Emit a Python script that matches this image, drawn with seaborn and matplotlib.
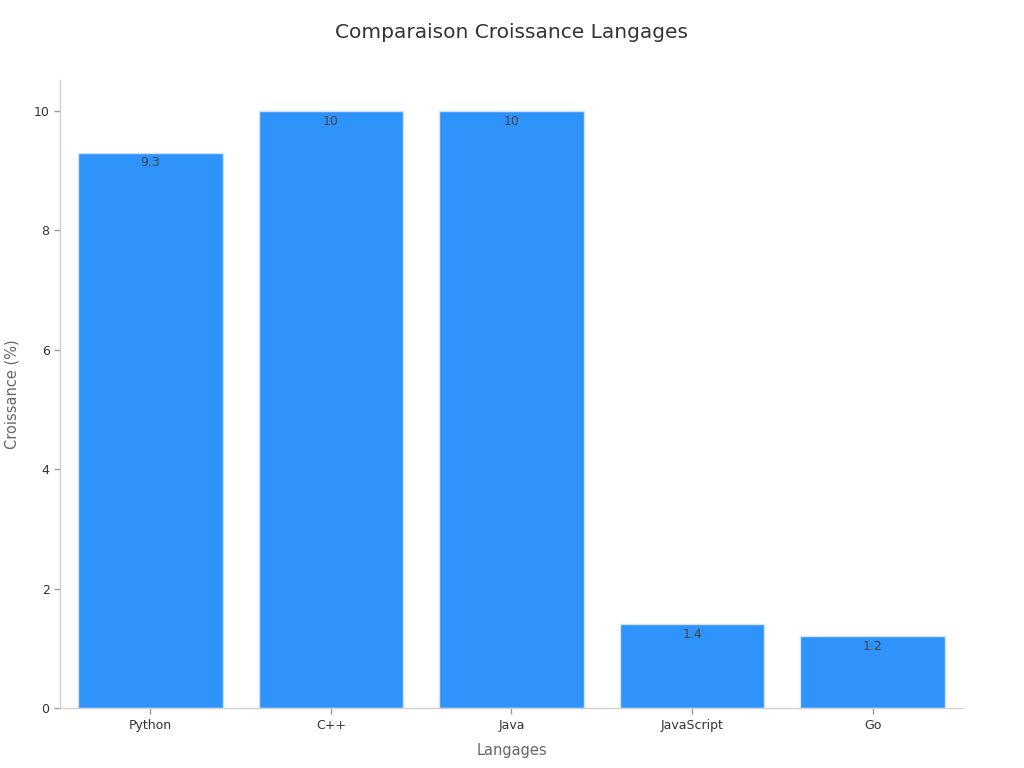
import matplotlib.pyplot as plt
import pandas as pd
import seaborn as sns

# Values
langages = ["Python", "C++", "Java", "JavaScript", "Go"]
croissance = [9.3, 10, 10, 1.4, 1.2]

df = pd.DataFrame({"Langages": langages, "Croissance": croissance})

sns.set_theme(style="white")
plt.rcParams["font.family"] = ["DejaVu Sans"]

fig = plt.figure(figsize=(10.24, 7.68), dpi=100)
ax = fig.add_axes([0.0586, 0.078, 0.8818, 0.818])

sns.barplot(data=df, x="Langages", y="Croissance", color="#2E93FA",
            saturation=1, width=0.8, edgecolor="#cfe4fb", linewidth=1, ax=ax)

for container in ax.containers:
    ax.bar_label(container, labels=[f"{v:g}" for v in croissance],
                 padding=-12, fontsize=9, color="#444444")

ax.set_xlim(-0.5, 4.5)
ax.set_ylim(0, 10.52)
ax.set_yticks([0, 2, 4, 6, 8, 10])

ax.set_title("Comparaison Croissance Langages", fontsize=14.5, color="#333333", pad=30)
ax.set_xlabel("Langages", fontsize=10.5, color="#666666", labelpad=8)
ax.set_ylabel("Croissance (%)", fontsize=10.5, color="#666666", labelpad=10)

ax.tick_params(axis="both", bottom=True, left=True, labelsize=9,
               labelcolor="#333333", color="#999999", length=4, width=1)

for side in ["top", "right"]:
    ax.spines[side].set_visible(False)
for side in ["left", "bottom"]:
    ax.spines[side].set_color("#d0d0d0")
    ax.spines[side].set_linewidth(1)

fig.savefig("out.png", dpi=100)
